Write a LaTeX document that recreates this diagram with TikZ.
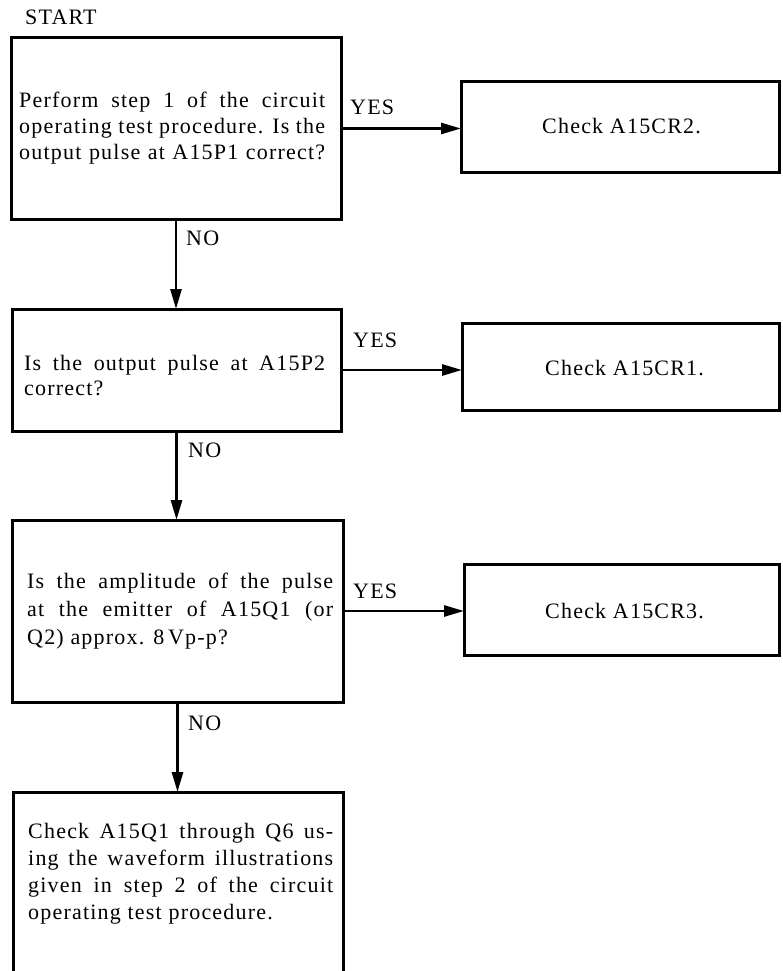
\documentclass[tikz,border=0pt]{standalone}
\usepackage{fontspec}
\setmainfont{Liberation Serif}[LetterSpace=5.5]
\usetikzlibrary{arrows.meta}
\newcommand\jline[2]{\hbox{\makebox[#1][s]{#2}}}
\begin{document}
\begin{tikzpicture}[x=1pt,y=-1pt,
  box/.style={draw, line width=3pt, inner sep=0pt, outer sep=0pt},
  openbox/.style={draw=none, inner sep=0pt, outer sep=0pt},
  flow/.style={line width=2.8pt, -{Triangle[length=20pt,width=11pt]}},
  txt/.style={inner sep=0pt, anchor=base west, font=\fontsize{22pt}{26pt}\selectfont}]
\useasboundingbox (0,0) rectangle (782,971);

% boxes
\node[box, minimum width=330pt, minimum height=181pt] (b1) at (176,128.5) {};
\node[box, minimum width=318pt, minimum height=90pt] (b2) at (620,127) {};
\node[box, minimum width=329pt, minimum height=122pt] (b3) at (176.5,370) {};
\node[box, minimum width=317pt, minimum height=87pt] (b4) at (620.5,366.5) {};
\node[box, minimum width=331pt, minimum height=182pt] (b5) at (177.5,611) {};
\node[box, minimum width=315pt, minimum height=91pt] (b6) at (621.5,609.5) {};
\node[openbox, minimum width=330pt, minimum height=179pt] (b7) at (178,881.5) {};
\draw[line width=3pt] (b7.south west) -- (b7.north west) -- (b7.north east) -- (b7.south east);

% texts
\node[txt] (start) at (25,25) {START};
\node[txt] (t1) at (19,107) {\vtop{\baselineskip=26pt\lineskiplimit=-20pt
  \jline{306pt}{Perform step 1 of the circuit}
  \jline{306pt}{operating test procedure. Is the}
  \jline{306pt}{output pulse at A15P1 correct?}}};
\node[txt] (t2) at (542,134) {Check A15CR2.};
\node[txt] (t3) at (24,370) {\vtop{\baselineskip=25pt\lineskiplimit=-20pt
  \jline{301pt}{Is the output pulse at A15P2}
  \hbox{correct?}}};
\node[txt] (t4) at (545,375) {Check A15CR1.};
\node[txt] (t5) at (27,588) {\vtop{\baselineskip=28pt\lineskiplimit=-20pt
  \jline{306pt}{Is the amplitude of the pulse}
  \jline{306pt}{at the emitter of A15Q1 (or}
  \hbox{Q2) approx. 8\,Vp-p?}}};
\node[txt] (t6) at (545,618) {Check A15CR3.};
\node[txt] (t7) at (28,838) {\vtop{\baselineskip=27pt\lineskiplimit=-20pt
  \jline{305pt}{Check A15Q1 through Q6 us-}
  \jline{305pt}{ing the waveform illustrations}
  \jline{305pt}{given in step 2 of the circuit}
  \hbox{operating test procedure.}}};

% labels
\node[txt] (y1) at (350,115) {YES};
\node[txt] (y2) at (353,347) {YES};
\node[txt] (y3) at (353,598) {YES};
\node[txt] (n1) at (186,245) {NO};
\node[txt] (n2) at (188,457) {NO};
\node[txt] (n3) at (188,730) {NO};

% connectors
\draw[flow] (b1.east) -- (b1.east -| b2.west);
\draw[flow] (b3.east) -- (b3.east -| b4.west);
\draw[flow] (b5.east) -- (b5.east -| b6.west);
\draw[flow] (b1.south) -- (b1.south |- b3.north);
\draw[flow] (b3.south) -- (b3.south |- b5.north);
\draw[flow] (b5.south) -- (b5.south |- b7.north);
\end{tikzpicture}
\end{document}
